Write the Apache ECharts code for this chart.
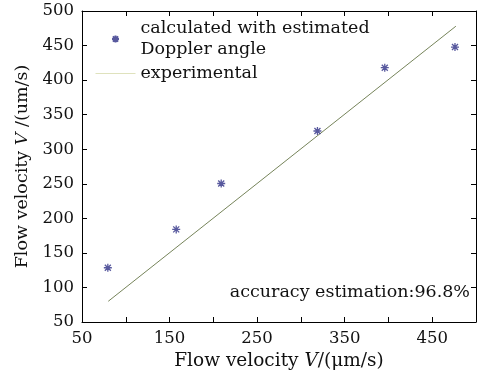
<!DOCTYPE html>
<html>
<head>
<meta charset="utf-8">
<script src="https://cdn.jsdelivr.net/npm/echarts@6/dist/echarts.min.js"></script>
<style>
  html, body { margin: 0; padding: 0; background: #fff; }
  #chart { width: 479px; height: 376px; }
</style>
</head>
<body>
<div id="chart"></div>
<script>
// calculated velocities (estimated Doppler angle)
const calcX = [79.5, 157.6, 209, 318.9, 395.8, 476];
const calcY = [128.5, 184, 250.4, 326.4, 418, 447.8];
// experimental reference line
const expX = [80, 477];
const expY = [80, 478];
const xTicks = [50, 150, 250, 350, 450];
const yTicks = [50, 100, 150, 200, 250, 300, 350, 400, 450, 500];

const font = "DejaVu Serif";
const star = "path://M-4,0L4,0M0,-4L0,4M-3,-3L3,3M-3,3L3,-3";

const chart = echarts.init(document.getElementById("chart"));

const baseAxis = {
  min: 50,
  max: 500,
  interval: 50,
  axisLine: { show: true, lineStyle: { color: "#000", width: 1 } },
  axisTick: { show: true, inside: true, length: 5, lineStyle: { color: "#000" } },
  splitLine: { show: false },
};

const nameStyle = (size) => ({
  fontFamily: font,
  fontSize: size,
  color: "#111",
  rich: { i: { fontFamily: font, fontStyle: "italic", fontSize: size, color: "#111" } },
});

const option = {
  animation: false,
  backgroundColor: "#fff",
  textStyle: { fontFamily: font },
  grid: { left: 82, right: 1, top: 11, bottom: 54 },
  legend: {
    orient: "vertical",
    left: 95,
    top: 18,
    padding: 0,
    itemWidth: 40,
    itemHeight: 7,
    itemGap: 3,
    textStyle: { fontFamily: font, fontSize: 17.5, color: "#111", lineHeight: 21 },
    data: [
      { name: "calculated with estimated\nDoppler angle", icon: star },
      {
        name: "experimental",
        lineStyle: { color: "#dfe2bd", width: 1 },
        itemStyle: { opacity: 0 },
      },
    ],
  },
  title: {
    text: "accuracy estimation:96.8%",
    right: 9,
    top: 283,
    padding: 0,
    textStyle: { fontFamily: font, fontSize: 17.5, fontWeight: "normal", color: "#111" },
  },
  xAxis: [
    {
      ...baseAxis,
      type: "value",
      position: "bottom",
      name: "Flow velocity {i|V}/(μm/s)",
      nameLocation: "middle",
      nameGap: 26,
      nameTextStyle: nameStyle(18.5),
      axisLabel: {
        fontFamily: font,
        fontSize: 16.5,
        color: "#111",
        margin: 8,
        formatter: (v) => (xTicks.includes(v) ? String(v) : ""),
      },
    },
    {
      ...baseAxis,
      type: "value",
      position: "top",
      axisLabel: { show: false },
    },
  ],
  yAxis: [
    {
      ...baseAxis,
      type: "value",
      position: "left",
      name: "Flow velocity {i|V} /(um/s)",
      nameLocation: "middle",
      nameGap: 51,
      nameTextStyle: nameStyle(17.5),
      axisLabel: {
        fontFamily: font,
        fontSize: 16.5,
        color: "#111",
        margin: 8,
        formatter: (v) => (yTicks.includes(v) ? String(v) : ""),
      },
    },
    {
      ...baseAxis,
      type: "value",
      position: "right",
      axisLabel: { show: false },
    },
  ],
  series: [
    {
      name: "calculated with estimated\nDoppler angle",
      type: "scatter",
      symbol: star,
      symbolSize: 8,
      itemStyle: { color: "#2e2f86", borderColor: "#2e2f86", borderWidth: 1.3 },
      data: calcX.map((x, i) => [x, calcY[i]]),
      z: 3,
    },
    {
      name: "experimental",
      type: "line",
      symbol: "none",
      lineStyle: { color: "#76845a", width: 1 },
      itemStyle: { color: "#76845a" },
      data: expX.map((x, i) => [x, expY[i]]),
    },
  ],
};

chart.setOption(option);
</script>
</body>
</html>
